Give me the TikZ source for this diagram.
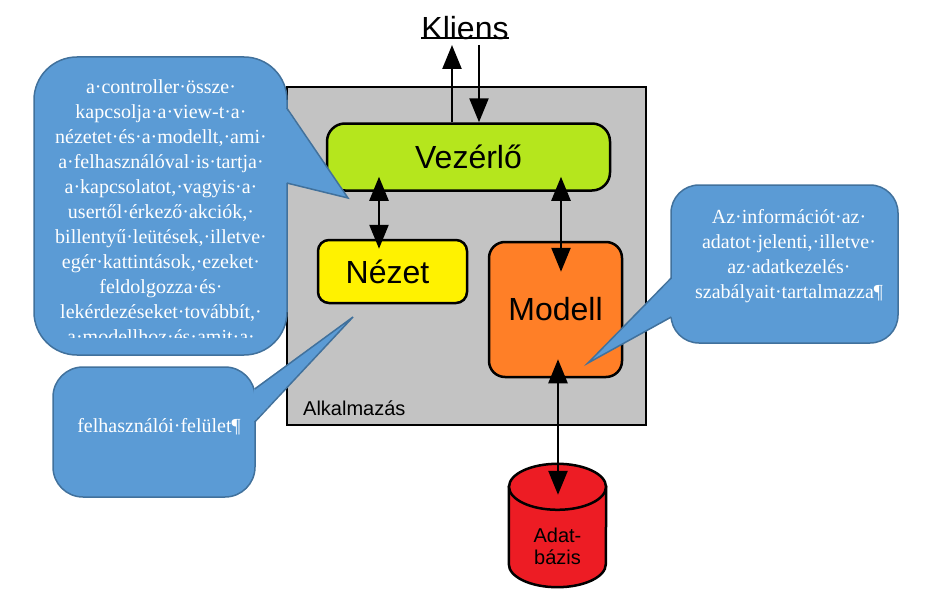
\documentclass[tikz,border=0pt]{standalone}
\usepackage{fontspec}
\setmainfont{Liberation Serif}
\setsansfont{Liberation Sans}
\usetikzlibrary{arrows.meta,positioning,calc}

\definecolor{vezgreen}{RGB}{181,230,29}
\definecolor{nezyellow}{RGB}{255,242,0}
\definecolor{modorange}{RGB}{255,127,39}
\definecolor{dbred}{RGB}{237,28,36}
\definecolor{appgray}{RGB}{195,195,195}
\definecolor{notefill}{RGB}{91,155,213}
\definecolor{noteline}{RGB}{65,113,156}

\newcommand{\notefont}{\fontsize{20}{25}\selectfont}
\newcommand{\partfont}{\sffamily\fontsize{32}{34}\selectfont}
\newcommand{\smallsans}{\sffamily\fontsize{20}{22}\selectfont}

\begin{document}
\begin{tikzpicture}
  [x=1pt,y=-1pt,
  bigtip/.tip={Triangle[width=19pt,length=24pt]},
  every node/.style={inner sep=0pt},
  part/.style={draw,line width=2.5pt,font=\partfont},
  arr/.style={bigtip-bigtip,line width=2.5pt},
  onearr/.style={-bigtip,line width=2.5pt},
  bubble/.style={draw=noteline,fill=notefill,line width=1.5pt},
  notetext/.style={align=center,text=white,font=\notefont}
  ]
  \useasboundingbox (0,0) rectangle (926,602);

  % the application frame
  \node[draw,line width=2.5pt,fill=appgray,minimum width=359pt,minimum height=338pt] (app) at (466.5,256) {};
  \node[anchor=west,font=\smallsans] (applabel) at (303,408) {Alkalmazás};

  \node[part,fill=vezgreen,rounded corners=18pt,minimum width=283pt,minimum height=67pt] (vez) at (468.5,157) {Vezérlő};
  \node[part,fill=nezyellow,rounded corners=11pt,minimum width=149pt,minimum height=63pt] (nez) at (392.5,271.5) {\hspace*{-10pt}Nézet};
  \node[part,fill=modorange,rounded corners=16pt,minimum width=133pt,minimum height=135pt] (mod) at (555.5,309.5) {Modell};

  % database, drawn round an empty node
  \node[minimum width=97pt,minimum height=123pt] (db) at (557.5,525.5) {};
  \filldraw[fill=dbred,line width=2.5pt] ($(db.north west)+(0,23)$) -- ($(db.south west)+(0,-23)$)
    arc[start angle=180,end angle=0,x radius=48.5,y radius=23] -- ($(db.north east)+(0,23)$) -- cycle;
  \filldraw[fill=dbred,line width=2.5pt] ($(db.north)+(0,23)$) ellipse[x radius=48.5,y radius=23];
  \node[align=center,font=\smallsans] (dblabel) at (557.5,546) {Adat-\\bázis};

  \node[anchor=south,font=\partfont,inner sep=0pt] (kliens) at (465,40) {Kliens};
  \draw[line width=1.5pt] ([yshift=2pt]kliens.south west) -- ([yshift=2pt]kliens.south east);

  % connections
  \draw[onearr,shorten >=5pt] ([xshift=-16.5pt]vez.north) -- ([xshift=-16.5pt]vez.north |- kliens.south);
  \draw[onearr,shorten <=5pt] ([xshift=10.5pt]vez.north |- kliens.south) -- ([xshift=10.5pt]vez.north);
  \draw[arr,shorten <=-10pt,shorten >=-15pt] ([xshift=-13.5pt]nez.north) -- ([xshift=-13.5pt]nez.north |- vez.south);
  \draw[arr,shorten <=-31pt,shorten >=-15pt] ([xshift=5.5pt]mod.north) -- ([xshift=5.5pt]mod.north |- vez.south);
  \draw[arr,shorten <=-19pt,shorten >=-31pt] ([xshift=2.5pt]mod.south) -- ([xshift=2.5pt]mod.south |- db.north);

  % callouts
  \node[bubble,rounded corners=43pt,minimum width=253pt,minimum height=298pt] (ctrlnote) at (160.5,206) {};
  \coordinate (ctrltip) at (348,198);
  \fill[notefill] ($(ctrlnote.east)+(-2,-98)$) -- (ctrltip) -- ($(ctrlnote.east)+(-2,-23)$) -- cycle;
  \draw[noteline,line width=1.5pt] ($(ctrlnote.east)+(-1,-98)$) -- (ctrltip) -- ($(ctrlnote.east)+(-1,-23)$);
  \begin{scope}
    \clip (34,57) rectangle (287,337);
    \node[notetext,anchor=north] (ctrltext) at (161,79) {a·controller·össze·\\kapcsolja·a·view-t·a·\\nézetet·és·a·modellt,·ami·\\a·felhasználóval·is·tartja·\\a·kapcsolatot,·vagyis·a·\\usertől·érkező·akciók,·\\billentyű·leütések,·illetve·\\egér·kattintások,·ezeket·\\feldolgozza·és·\\lekérdezéseket·továbbít,·\\a·modellhoz·és·amit·a·};
  \end{scope}

  \node[bubble,rounded corners=30pt,minimum width=202pt,minimum height=130pt] (uinote) at (154,432) {};
  \coordinate (uitip) at (353,317);
  \fill[notefill] ($(uinote.east)+(-2,-43)$) -- (uitip) -- ($(uinote.east)+(-2,-10)$) -- cycle;
  \draw[noteline,line width=1.5pt] ($(uinote.east)+(-1,-43)$) -- (uitip) -- ($(uinote.east)+(-1,-10)$);
  \node[notetext] (uitext) at (159,427) {felhasználói·felület¶};

  \node[bubble,rounded corners=28pt,minimum width=227pt,minimum height=158pt] (modnote) at (784.5,264) {};
  \coordinate (modtip) at (588,363);
  \fill[notefill] ($(modnote.west)+(2,14)$) -- (modtip) -- ($(modnote.west)+(2,53)$) -- cycle;
  \draw[noteline,line width=1.5pt] ($(modnote.west)+(1,14)$) -- (modtip) -- ($(modnote.west)+(1,53)$);
  \node[notetext,anchor=north] (modtext) at (789,209) {Az·információt·az·\\adatot·jelenti,·illetve·\\az·adatkezelés·\\szabályait·tartalmazza¶};
\end{tikzpicture}
\end{document}
